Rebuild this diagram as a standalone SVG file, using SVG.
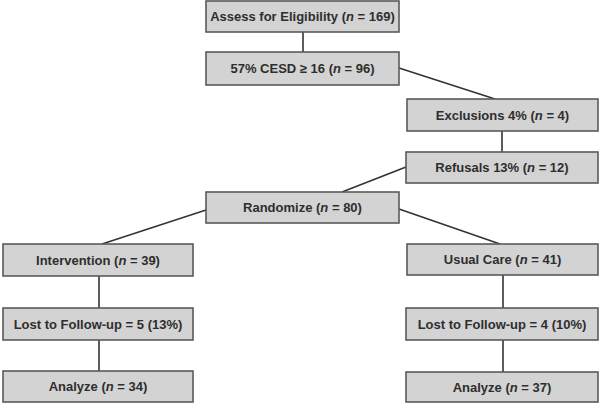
<svg xmlns="http://www.w3.org/2000/svg" width="600" height="404" viewBox="0 0 600 404">
<style>
.box{fill:#d3d3d3;stroke:#5a5a5a;stroke-width:1.6}
.t{font-family:"Liberation Sans",Arial,sans-serif;font-weight:bold;font-size:13px;fill:#2e2e2e;text-anchor:middle}
.i{font-style:italic}
.c{stroke:#333;stroke-width:1.6;fill:none}
</style>
<rect width="600" height="404" fill="#fff"/>
<g id="connectors">
<line class="c" x1="303" y1="32" x2="303" y2="52"/>
<line class="c" x1="399" y1="68" x2="495" y2="99"/>
<line class="c" x1="502" y1="131" x2="502" y2="152"/>
<line class="c" x1="406" y1="167" x2="342" y2="192"/>
<line class="c" x1="206" y1="210" x2="102" y2="244"/>
<line class="c" x1="399" y1="209" x2="500" y2="244"/>
<line class="c" x1="99" y1="276" x2="99" y2="308"/>
<line class="c" x1="99" y1="340" x2="99" y2="371"/>
<line class="c" x1="503" y1="275" x2="503" y2="308"/>
<line class="c" x1="503" y1="340" x2="503" y2="372"/>
</g>
<g id="assess"><rect class="box" x="206" y="1" width="193" height="31"/><text class="t" x="302.5" y="21">Assess for Eligibility (<tspan class="i">n</tspan> = 169)</text></g>
<g id="cesd"><rect class="box" x="206" y="52" width="193" height="33"/><text class="t" x="302.5" y="73">57% CESD ≥ 16 (<tspan class="i">n</tspan> = 96)</text></g>
<g id="exclusions"><rect class="box" x="407" y="99" width="191" height="32"/><text class="t" x="502.5" y="120">Exclusions 4% (<tspan class="i">n</tspan> = 4)</text></g>
<g id="refusals"><rect class="box" x="406" y="152" width="192" height="31"/><text class="t" x="502" y="172">Refusals 13% (<tspan class="i">n</tspan> = 12)</text></g>
<g id="randomize"><rect class="box" x="206" y="192" width="193" height="31"/><text class="t" x="302.5" y="212">Randomize (<tspan class="i">n</tspan> = 80)</text></g>
<g id="intervention"><rect class="box" x="3" y="244" width="190" height="32"/><text class="t" x="98" y="265">Intervention (<tspan class="i">n</tspan> = 39)</text></g>
<g id="usualcare"><rect class="box" x="407" y="244" width="191" height="31"/><text class="t" x="502.5" y="264">Usual Care (<tspan class="i">n</tspan> = 41)</text></g>
<g id="lostleft"><rect class="box" x="3" y="308" width="190" height="32"/><text class="t" x="98" y="329">Lost to Follow-up = 5 (13%)</text></g>
<g id="lostright"><rect class="box" x="406" y="308" width="192" height="32"/><text class="t" x="502" y="329">Lost to Follow-up = 4 (10%)</text></g>
<g id="analyzeleft"><rect class="box" x="3" y="371" width="190" height="31"/><text class="t" x="98" y="391">Analyze (<tspan class="i">n</tspan> = 34)</text></g>
<g id="analyzeright"><rect class="box" x="406" y="372" width="192" height="30"/><text class="t" x="502" y="391.5">Analyze (<tspan class="i">n</tspan> = 37)</text></g>
</svg>
